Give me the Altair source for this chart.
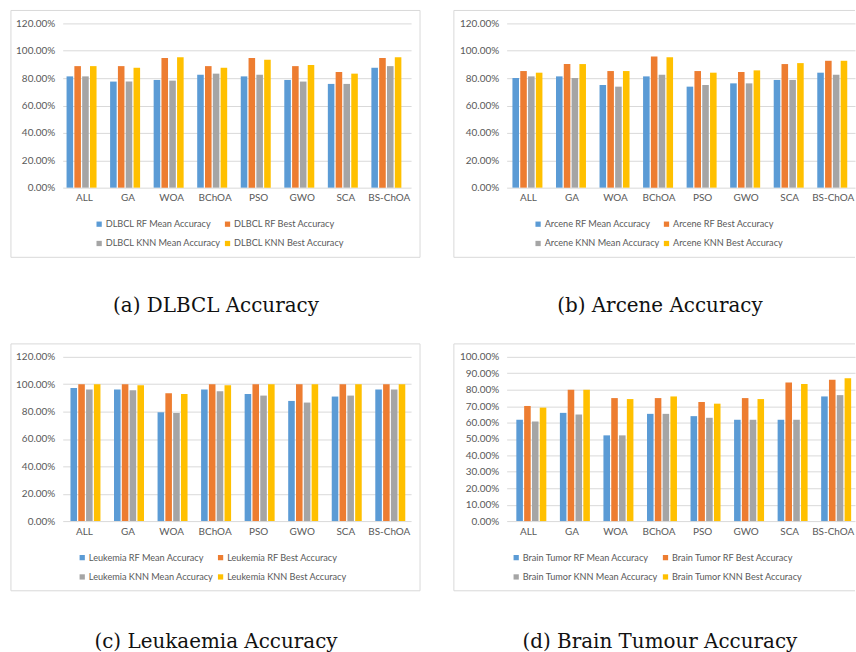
import altair as alt
import pandas as pd

# Feature-selection methods on the x axis
methods = ["ALL", "GA", "WOA", "BChOA", "PSO", "GWO", "SCA", "BS-ChOA"]
metric_suffixes = ["RF Mean Accuracy", "RF Best Accuracy", "KNN Mean Accuracy", "KNN Best Accuracy"]
palette = ["#5B9BD5", "#ED7D31", "#A5A5A5", "#FFC000"]

# Accuracy (%) per dataset, in the order of metric_suffixes
dlbcl_rf_mean = [81.3, 77.5, 78.7, 82.5, 81.3, 78.7, 75.8, 87.6]
dlbcl_rf_best = [88.8, 88.8, 94.7, 88.8, 94.7, 88.8, 84.5, 94.7]
dlbcl_knn_mean = [81.3, 77.5, 78.2, 83.3, 82.5, 77.5, 75.8, 88.8]
dlbcl_knn_best = [88.8, 87.6, 95.2, 87.6, 93.5, 89.6, 83.3, 95.2]

arcene_rf_mean = [80.1, 81.3, 75.0, 81.3, 73.8, 76.2, 78.7, 84.0]
arcene_rf_best = [85.2, 90.3, 85.2, 95.9, 85.2, 84.5, 90.3, 92.7]
arcene_knn_mean = [81.3, 80.1, 73.8, 82.5, 75.0, 76.2, 78.7, 82.5]
arcene_knn_best = [84.0, 90.3, 85.2, 95.2, 84.0, 85.7, 91.0, 92.7]

leuk_rf_mean = [97.3, 96.1, 79.5, 96.1, 92.9, 87.8, 91.0, 96.1]
leuk_rf_best = [100.0, 100.0, 93.4, 100.0, 100.0, 100.0, 100.0, 100.0]
leuk_knn_mean = [96.1, 95.6, 79.0, 94.9, 91.7, 86.6, 91.7, 96.1]
leuk_knn_best = [100.0, 99.3, 92.9, 99.3, 100.0, 100.0, 100.0, 100.0]

brain_rf_mean = [61.7, 65.9, 52.2, 65.3, 63.9, 61.7, 61.7, 75.9]
brain_rf_best = [70.1, 79.9, 74.9, 74.9, 72.5, 74.9, 84.4, 86.0]
brain_knn_mean = [60.7, 64.9, 52.2, 65.3, 62.9, 61.7, 61.7, 76.7]
brain_knn_best = [69.1, 79.9, 74.3, 75.9, 71.5, 74.3, 83.4, 87.0]

PLOT_W = 350
PLOT_H = 165
AXIS_FONT = "Lato"
AXIS_COLOR = "#595959"
GRID_COLOR = "#D9D9D9"


def long_table(prefix, series_values):
    rows = []
    labels = [f"{prefix} {s}" for s in metric_suffixes]
    for label, values in zip(labels, series_values):
        for m, v in zip(methods, values):
            rows.append({"method": m, "series": label, "value": v / 100.0})
    return pd.DataFrame(rows), labels


def frame_lines(left, right, top, bottom, closed_right):
    """Light grey box drawn around one sub-figure (axes and legend included)."""
    one = pd.DataFrame({"k": [0]})
    base = alt.Chart(one).mark_rule(color=GRID_COLOR, strokeWidth=1)
    parts = [
        base.encode(x=alt.value(left), x2=alt.value(right), y=alt.value(top)),
        base.encode(x=alt.value(left), x2=alt.value(right), y=alt.value(bottom)),
        base.encode(x=alt.value(left), y=alt.value(top), y2=alt.value(bottom)),
    ]
    if closed_right:
        parts.append(base.encode(x=alt.value(right), y=alt.value(top), y2=alt.value(bottom)))
    return parts


def panel(prefix, series_values, caption, ymax, ystep, legend_x, left_col, cap_offset):
    df, labels = long_table(prefix, series_values)
    ticks = [round(i * ystep, 4) for i in range(int(round(ymax / ystep)) + 1)]

    bars = alt.Chart(df).mark_bar(width=6.6).encode(
        x=alt.X(
            "method:N",
            sort=methods,
            scale=alt.Scale(paddingInner=0.29, paddingOuter=0.145),
            axis=alt.Axis(
                title=None, labelAngle=0, domain=False, ticks=False,
                labelPadding=5, labelFont=AXIS_FONT, labelFontSize=10,
                labelColor=AXIS_COLOR,
            ),
        ),
        xOffset=alt.XOffset("series:N", sort=labels, scale=alt.Scale(paddingInner=0.16)),
        y=alt.Y(
            "value:Q",
            scale=alt.Scale(domain=[0, ymax], nice=False),
            axis=alt.Axis(
                title=None, format=".2%", values=ticks, domain=False, ticks=False,
                labelPadding=8, labelFont=AXIS_FONT, labelFontSize=10,
                labelColor=AXIS_COLOR, gridColor=GRID_COLOR, gridWidth=1,
            ),
        ),
        color=alt.Color(
            "series:N",
            sort=labels,
            scale=alt.Scale(domain=labels, range=palette),
            legend=alt.Legend(
                title=None, orient="none", legendX=legend_x, legendY=197,
                direction="horizontal", columns=2, symbolType="square",
                symbolSize=28, symbolStrokeWidth=0, labelFont=AXIS_FONT,
                labelFontSize=9.2, labelColor=AXIS_COLOR, labelOffset=2,
                rowPadding=9.5, columnPadding=2,
            ),
        ),
    )

    if left_col:
        border = frame_lines(-52, 359, -13, 235, True)
    else:
        border = frame_lines(-53, 350, -13, 235, False)

    return alt.layer(*border, bars).properties(
        width=PLOT_W,
        height=PLOT_H,
        title=alt.TitleParams(
            text=caption, orient="bottom", anchor="middle", frame="group",
            dx=-21, offset=cap_offset, font="DejaVu Serif", fontSize=20,
            fontWeight="normal", color="#111111",
        ),
    )


pa = panel("DLBCL", [dlbcl_rf_mean, dlbcl_rf_best, dlbcl_knn_mean, dlbcl_knn_best],
           "(a) DLBCL Accuracy", 1.2, 0.2, 32, True, 38)
pb = panel("Arcene", [arcene_rf_mean, arcene_rf_best, arcene_knn_mean, arcene_knn_best],
           "(b) Arcene Accuracy", 1.2, 0.2, 27, False, 38)
pc = panel("Leukemia", [leuk_rf_mean, leuk_rf_best, leuk_knn_mean, leuk_knn_best],
           "(c) Leukaemia Accuracy", 1.2, 0.2, 15, True, 41)
pd_ = panel("Brain Tumor", [brain_rf_mean, brain_rf_best, brain_knn_mean, brain_knn_best],
            "(d) Brain Tumour Accuracy", 1.0, 0.1, 5, False, 41)

top = alt.hconcat(pa, pb, spacing=32).resolve_scale(color="independent")
bottom = alt.hconcat(pc, pd_, spacing=32).resolve_scale(color="independent")

chart = (
    alt.vconcat(top, bottom, spacing=27)
    .resolve_scale(color="independent")
    .properties(padding={"left": 10, "top": 8, "right": 0, "bottom": 0}, background="white")
    .configure_view(stroke=None)
)

chart.save("out.html", embed_options={"renderer": "svg", "actions": False})
